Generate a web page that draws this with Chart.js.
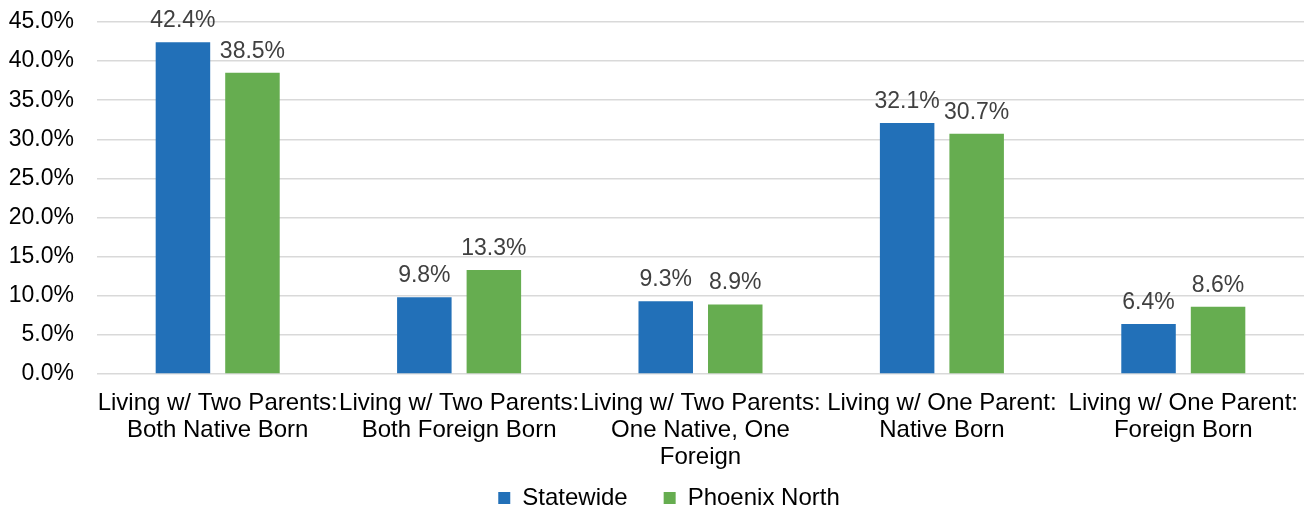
<!DOCTYPE html>
<html>
<head>
<meta charset="utf-8">
<script src="https://cdn.jsdelivr.net/npm/chart.js@4/dist/chart.umd.min.js"></script>
<style>
  html, body { margin: 0; padding: 0; background: #fff; }
  #wrap { width: 1309px; height: 513px; position: relative; }
</style>
</head>
<body>
<div id="wrap"><canvas id="c" width="1309" height="513"></canvas></div>
<script>
const categories = [
  ["Living w/ Two Parents:", "Both Native Born"],
  ["Living w/ Two Parents:", "Both Foreign Born"],
  ["Living w/ Two Parents:", "One Native, One", "Foreign"],
  ["Living w/ One Parent:", "Native Born"],
  ["Living w/ One Parent:", "Foreign Born"]
];
const seriesNames = ["Statewide", "Phoenix North"];
const statewide = [42.4, 9.8, 9.3, 32.1, 6.4];
const phoenixNorth = [38.5, 13.3, 8.9, 30.7, 8.6];
const yTicks = [0, 5, 10, 15, 20, 25, 30, 35, 40, 45];

const FONT = "'Liberation Sans', Arial, sans-serif";

const valueLabels = {
  id: 'valueLabels',
  afterDatasetsDraw(chart) {
    const ctx = chart.ctx;
    ctx.save();
    ctx.font = "23px " + FONT;
    ctx.fillStyle = "#404040";
    ctx.textAlign = "center";
    ctx.textBaseline = "alphabetic";
    chart.data.datasets.forEach((ds, i) => {
      const meta = chart.getDatasetMeta(i);
      meta.data.forEach((bar, j) => {
        ctx.fillText(ds.data[j].toFixed(1) + "%", bar.x, bar.y - 15);
      });
    });
    ctx.restore();
  }
};

const noLabelClip = scale => { scale._computeLabelArea = () => undefined; };

new Chart(document.getElementById('c'), {
  type: 'bar',
  data: {
    labels: categories,
    datasets: [
      { label: seriesNames[0], data: statewide, backgroundColor: '#2270b8',
        categoryPercentage: 0.576, barPercentage: 0.784 },
      { label: seriesNames[1], data: phoenixNorth, backgroundColor: '#66ad50',
        categoryPercentage: 0.576, barPercentage: 0.784 }
    ]
  },
  options: {
    responsive: false,
    animation: false,
    devicePixelRatio: 1,
    layout: { padding: { left: 34, right: 5, top: 22, bottom: -7 } },
    plugins: {
      legend: {
        position: 'bottom',
        labels: {
          boxWidth: 12, boxHeight: 12, padding: 36,
          color: '#000', font: { family: FONT, size: 24 }
        }
      },
      tooltip: { enabled: false }
    },
    scales: {
      x: {
        afterFit(scale) { scale.height = 76; noLabelClip(scale); },
        grid: { display: false },
        border: { display: false },
        ticks: {
          color: '#000', font: { family: FONT, size: 24, lineHeight: 1.13 },
          maxRotation: 0, minRotation: 0, autoSkip: false, padding: 8
        }
      },
      y: {
        min: 0, max: 45,
        afterFit(scale) { scale.width = 63; noLabelClip(scale); },
        afterBuildTicks(scale) { scale.ticks = yTicks.map(v => ({ value: v })); },
        grid: { color: '#d9d9d9', lineWidth: 1.5, drawTicks: true, tickLength: 23, tickColor: 'rgba(0,0,0,0)' },
        border: { display: false },
        ticks: {
          color: '#000', font: { family: FONT, size: 23 }, padding: 0,
          callback: v => v.toFixed(1) + '%'
        }
      }
    }
  },
  plugins: [valueLabels]
});
</script>
</body>
</html>
